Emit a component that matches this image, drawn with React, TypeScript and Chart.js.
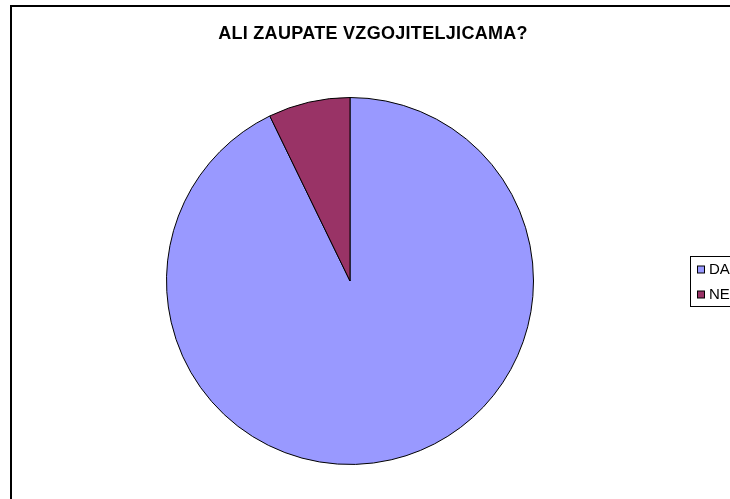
import React, { useEffect, useRef } from "react";
import { Chart, registerables } from "chart.js";

Chart.register(...registerables);

const TITLE = "ALI ZAUPATE VZGOJITELJICAMA?";
const categories = ["DA", "NE"];
const values = [92.8, 7.2];
const colors = ["#9999FF", "#993366"];

const overlayPlugin = {
  id: "overlay",
  afterDraw(chart: any) {
    const ctx = chart.ctx as CanvasRenderingContext2D;
    ctx.save();
    // frame
    ctx.strokeStyle = "#000";
    ctx.lineWidth = 2;
    ctx.beginPath();
    ctx.moveTo(11, 510);
    ctx.lineTo(11, 6);
    ctx.lineTo(740, 6);
    ctx.stroke();
    // title
    ctx.fillStyle = "#000";
    ctx.font = "bold 18px 'Liberation Sans', Arial, sans-serif";
    (ctx as any).letterSpacing = "0.3px";
    ctx.textAlign = "left";
    ctx.textBaseline = "middle";
    const w = ctx.measureText(TITLE).width;
    ctx.fillText(TITLE, 373 - w / 2, 34);
    (ctx as any).letterSpacing = "0px";
    // legend
    ctx.lineWidth = 1;
    ctx.strokeStyle = "#000";
    ctx.strokeRect(690.5, 256.5, 60, 50);
    const labels = chart.data.labels as string[];
    const bg = chart.data.datasets[0].backgroundColor as string[];
    ctx.font = "15px 'Liberation Sans', Arial, sans-serif";
    ctx.textAlign = "left";
    labels.forEach((lab, i) => {
      const cy = 269.5 + i * 25;
      ctx.fillStyle = bg[i];
      ctx.fillRect(697.5, cy - 3.5, 7, 7);
      ctx.strokeStyle = "#000";
      ctx.strokeRect(697.5, cy - 3.5, 7, 7);
      ctx.fillStyle = "#000";
      ctx.fillText(lab, 709, cy + 0.5);
    });
    ctx.restore();
  },
};

export default function App() {
  const ref = useRef<HTMLCanvasElement>(null);
  useEffect(() => {
    if (!ref.current) return;
    const chart = new Chart(ref.current, {
      type: "pie",
      data: {
        labels: categories,
        datasets: [
          {
            data: values,
            backgroundColor: colors,
            borderColor: "#000",
            borderWidth: 1,
          },
        ],
      },
      options: {
        animation: false,
        responsive: false,
        events: [],
        layout: { padding: { left: 166, right: 196, top: 97, bottom: 34 } },
        plugins: {
          legend: { display: false },
          title: { display: false },
          tooltip: { enabled: false },
        },
      },
      plugins: [overlayPlugin],
    });
    return () => chart.destroy();
  }, []);
  return (
    <div style={{ position: "absolute", left: 0, top: 0, width: 730, height: 499, background: "#fff" }}>
      <canvas ref={ref} width={730} height={499} style={{ width: 730, height: 499 }} />
    </div>
  );
}
